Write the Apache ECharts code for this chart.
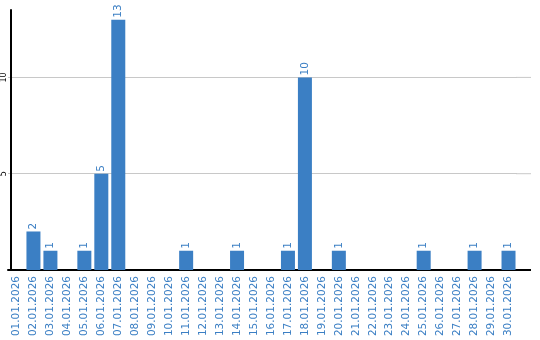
<!DOCTYPE html>
<html><head><meta charset="utf-8">
<script src="https://cdn.jsdelivr.net/npm/echarts@6/dist/echarts.min.js"></script>
<style>html,body{margin:0;padding:0;background:#fff}#c{width:540px;height:340px}</style>
</head><body><div id="c"></div>
<script>
var categories = ['01.01.2026','02.01.2026','03.01.2026','04.01.2026','05.01.2026','06.01.2026','07.01.2026','08.01.2026','09.01.2026','10.01.2026','11.01.2026','12.01.2026','13.01.2026','14.01.2026','15.01.2026','16.01.2026','17.01.2026','18.01.2026','19.01.2026','20.01.2026','21.01.2026','22.01.2026','23.01.2026','24.01.2026','25.01.2026','26.01.2026','27.01.2026','28.01.2026','29.01.2026','30.01.2026'];
var values = [0,2,1,0,1,5,13,0,0,0,1,0,0,1,0,0,1,10,0,1,0,0,0,0,1,0,0,1,0,1];
var yTicks = [5,10];
var blue = '#3b7fc4';
var chart = echarts.init(document.getElementById('c'));
chart.setOption({
  animation:false,
  grid:{left:7, top:10, width:510, bottom:70, containLabel:false},
  xAxis:{type:'category', data:categories,
    axisLine:{lineStyle:{color:'#000',width:2}}, axisTick:{show:false},
    axisLabel:{rotate:90, color:blue, fontFamily:'DejaVu Sans', fontSize:10.5, margin:6, interval:0}},
  yAxis:{type:'value', min:0, max:13.5, interval:5, offset:-3,
    axisLine:{show:true, lineStyle:{color:'#000',width:2}}, axisTick:{show:false},
    splitLine:{showMaxLine:false, showMinLine:false, lineStyle:{color:'#c8c8c8'}},
    axisLabel:{rotate:90, color:'#000', fontFamily:'DejaVu Sans', fontSize:8, margin:3,
      formatter:function(v){return yTicks.indexOf(v)>=0 ? String(v) : '';}}},
  series:[{type:'bar', data:values, barWidth:14, itemStyle:{color:blue},
    label:{show:true, position:'top', rotate:90, align:'left', verticalAlign:'middle', distance:2,
      color:blue, fontFamily:'DejaVu Sans', fontSize:10.5,
      formatter:function(p){return p.value ? String(p.value) : '';}}}]
});
// extend axis line and grid lines to the right edge, like the reference
var gr = chart.getModel().getComponent('grid').coordinateSystem.getRect();
var xr = gr.x + gr.width, xe = 531;
var g = [];
[0].concat(yTicks).forEach(function(v){
  var y = chart.convertToPixel({yAxisIndex:0}, v);
  g.push({type:'line', shape:{x1:xr-1, y1:y, x2:xe, y2:y},
    style:{stroke: v===0 ? '#000' : '#c8c8c8', lineWidth: v===0 ? 2 : 1}, z:10});
});
chart.setOption({graphic:g});
</script></body></html>
